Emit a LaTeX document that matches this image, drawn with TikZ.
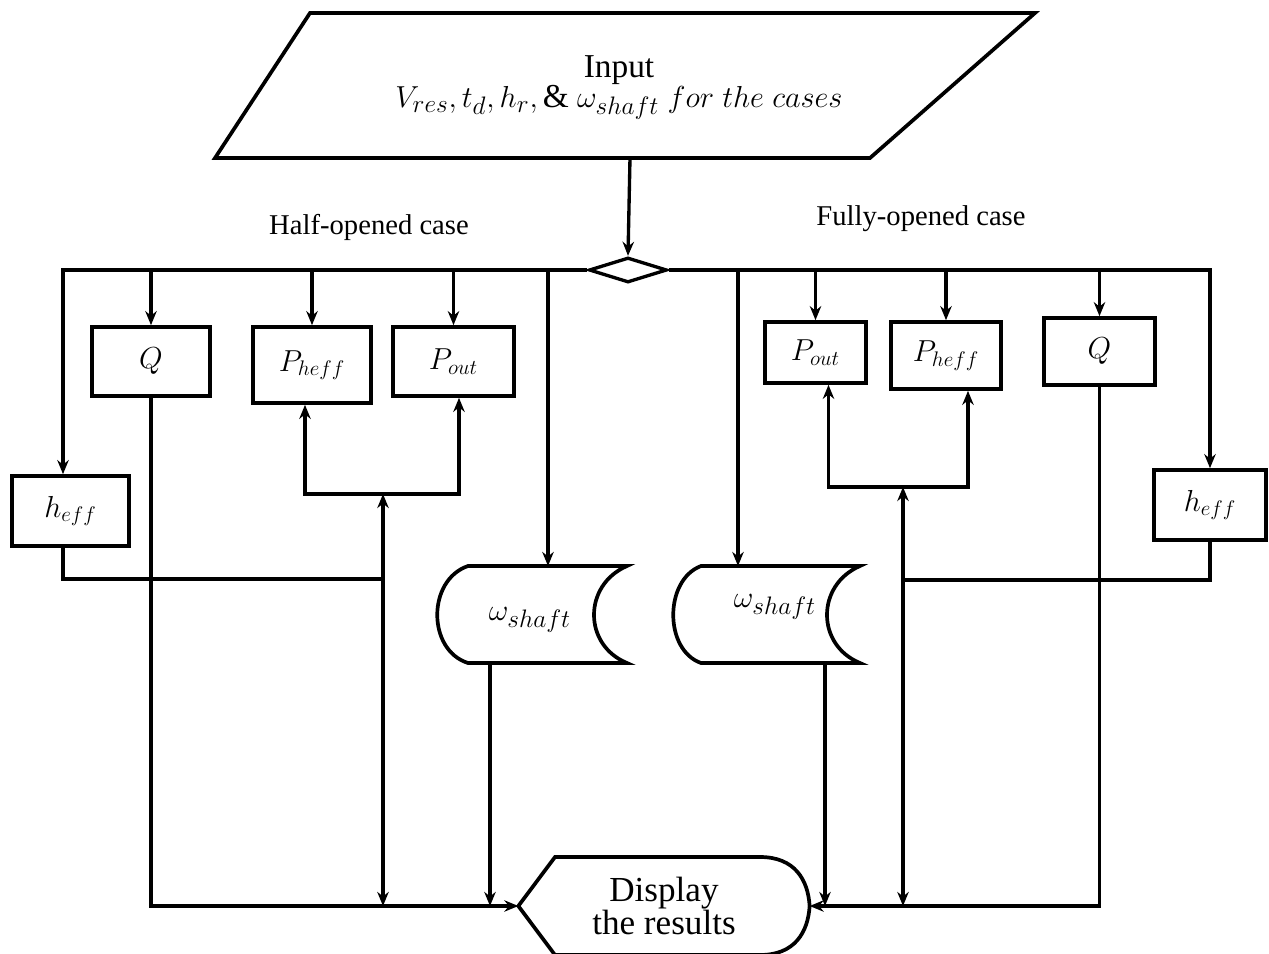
\documentclass[tikz,border=0pt]{standalone}
\usepackage{fontspec}
\setmainfont{Liberation Serif}
\usetikzlibrary{arrows.meta,shapes.geometric}
\begin{document}
\begin{tikzpicture}[x=0.02cm, y=-0.02cm, line width=1.9pt,
  >={Stealth[length=8pt,width=6.5pt]},
  box/.style={draw, line width=2.1pt, inner sep=0pt, font=\fontsize{18.5}{21}\selectfont},
  lbl/.style={font=\fontsize{16.3}{19}\selectfont},
  wlbl/.style={font=\fontsize{19}{22}\selectfont},
  outline/.style={line width=2.1pt}
]
\useasboundingbox (0,0) rectangle (1269,954);

% input parallelogram
\draw[outline] (310,13) -- (1035,13) -- (870,158) -- (215,158) -- cycle;
\node[font=\fontsize{19}{17}\selectfont, align=center] (inp) at (619,88)
  {Input\\ $V_{res}, t_d, h_r, \&\ \omega_{shaft}\ for\ the\ cases$};
\coordinate (inpb) at (630,158);

% decision
\node[draw, diamond, line width=1.9pt, minimum width=1.56cm, minimum height=0.5cm, inner sep=0pt] (dia) at (628,270) {};
\draw[->] (inpb) -- (dia.north);

\node[lbl] (half) at (369,227) {Half-opened case};
\node[lbl] (full) at (921,219) {Fully-opened case};

% boxes
\node[box, minimum width=2.36cm, minimum height=1.38cm] (Ql)  at (151,361.5) {$Q$};
\node[box, minimum width=2.36cm, minimum height=1.52cm] (Phl) at (312,365) {$P_{heff}$};
\node[box, minimum width=2.42cm, minimum height=1.38cm] (Pol) at (453.5,361.5) {$P_{out}$};
\node[box, minimum width=2.34cm, minimum height=1.40cm] (hl)  at (70.5,511) {$h_{eff}$};
\node[box, minimum width=2.02cm, minimum height=1.22cm] (Por) at (815.5,352.5) {$P_{out}$};
\node[box, minimum width=2.20cm, minimum height=1.34cm] (Phr) at (946,355.5) {$P_{heff}$};
\node[box, minimum width=2.22cm, minimum height=1.34cm] (Qr)  at (1099.5,351.5) {$Q$};
\node[box, minimum width=2.24cm, minimum height=1.40cm] (hr)  at (1210,505) {$h_{eff}$};

% omega shapes
\node[wlbl] (wl) at (530,620) {$\omega_{shaft}$};
\draw[outline] (468,566) -- (627,566) .. controls (583,585) and (583,645) .. (627,663)
  -- (468,663) .. controls (427,650) and (427,580) .. (468,566) -- cycle;
\node[wlbl] (wr) at (775,607) {$\omega_{shaft}$};
\draw[outline] (701,566) -- (860,566) .. controls (816,585) and (816,645) .. (860,663)
  -- (701,663) .. controls (664,650) and (664,580) .. (701,566) -- cycle;
\coordinate (wlin) at (548,566);
\coordinate (wrin) at (738,566);
\coordinate (wlout) at (490,663);
\coordinate (wrout) at (825,663);

% display
\node[minimum width=5.76cm, minimum height=1.96cm, inner sep=0pt, align=center,
      font=\fontsize{20}{19}\selectfont] (disp) at (664,906) {Display\\the results};
\draw[outline] (disp.west) -- (555,857) -- (760,857) .. controls (795,857) and (808,880) .. (disp.east)
  .. controls (808,932) and (795,955) .. (760,955) -- (555,955) -- cycle;

% buses
\draw[->] (dia.west) -| ([xshift=-0.15cm]hl.north);
\draw[->] (dia.east) -| (hr.north);
\draw[->] (Ql.north |- dia.west) -- (Ql.north);
\draw[->] (Phl.north |- dia.west) -- (Phl.north);
\draw[->] (Pol.north |- dia.west) -- (Pol.north);
\draw[->] (wlin |- dia.west) -- (wlin);
\draw[->] (wrin |- dia.east) -- (wrin);
\draw[->] (Por.north |- dia.east) -- (Por.north);
\draw[->] (Phr.north |- dia.east) -- (Phr.north);
\draw[->] (Qr.north |- dia.east) -- (Qr.north);

% left lower network
\coordinate (jl) at (383,579);
\coordinate (jlt) at (383,494);
\draw[->] (Ql.south) |- (disp.west);
\draw ([xshift=-0.15cm]hl.south) |- (jl);
\draw[->] (jl) -- (jlt);
\draw[->] (jl) -- (jl |- disp.west);
\draw[->] (jlt) -| ([xshift=-0.14cm]Phl.south);
\draw[->] (jlt) -| ([xshift=0.11cm]Pol.south);
\draw[->] (wlout) -- (wlout |- disp.west);

% right lower network
\coordinate (jr) at (903,580);
\coordinate (jrt) at (903,487);
\draw[->] (Qr.south) |- (disp.east);
\draw (hr.south) |- (jr);
\draw[->] (jr) -- (jrt);
\draw[->] (jr) -- (jr |- disp.east);
\draw[->] (jrt) -| ([xshift=0.26cm]Por.south);
\draw[->] (jrt) -| ([xshift=0.44cm]Phr.south);
\draw[->] (wrout) -- (wrout |- disp.east);
\end{tikzpicture}
\end{document}
